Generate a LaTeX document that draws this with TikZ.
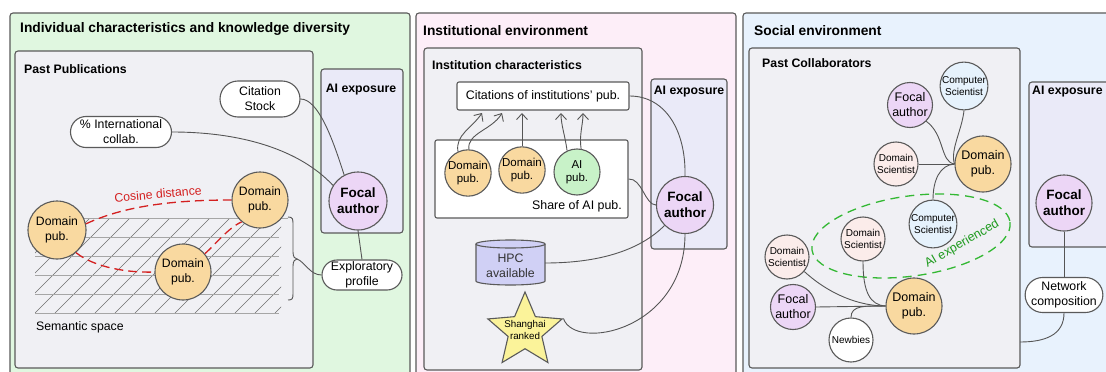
\documentclass[tikz,border=0pt]{standalone}
\usepackage{fontspec}
\setmainfont{Liberation Sans}
\usetikzlibrary{shapes.geometric,shapes.misc,arrows.meta,calc}
\definecolor{bordc}{HTML}{5A5A5A}
\definecolor{connc}{HTML}{555555}
\definecolor{pgreen}{HTML}{E0F7E0}
\definecolor{ppink}{HTML}{FDEEF8}
\definecolor{pblue}{HTML}{E8F2FD}
\definecolor{boxc}{HTML}{F0F0F4}
\definecolor{aiexc}{HTML}{EAEAF8}
\definecolor{focc}{HTML}{ECD6F6}
\definecolor{domc}{HTML}{F9D9A0}
\definecolor{aipc}{HTML}{C8F2C8}
\definecolor{compc}{HTML}{E6F2FC}
\definecolor{dsc}{HTML}{FBECEA}
\definecolor{hpcc}{HTML}{D0D0F5}
\definecolor{starc}{HTML}{FBF39A}
\definecolor{cosred}{HTML}{D42020}
\definecolor{aigreen}{HTML}{33B833}
\definecolor{aitext}{HTML}{1E9A1E}
\newcommand\myfs[2]{\fontsize{#1}{#2}\selectfont}
\tikzset{
  panel/.style={draw=bordc, line width=1.1pt, rounded corners=3pt},
  inbox/.style={draw=bordc, line width=1.1pt, rounded corners=3pt, fill=boxc},
  aibox/.style={draw=bordc, line width=1.1pt, rounded corners=3pt, fill=aiexc},
  circ/.style={circle, draw=bordc, line width=1.1pt, inner sep=0pt, align=center},
  pubc/.style={circ, fill=domc, minimum size=56pt, font=\myfs{12.2}{14.5}},
  focal/.style={circ, fill=focc, minimum size=58pt, font=\bfseries\myfs{13.5}{16}},
  stad/.style={rounded rectangle, draw=bordc, fill=white, line width=1.1pt, align=center, inner sep=0pt, font=\myfs{12.3}{15}},
  conn/.style={draw=connc, line width=0.9pt},
  arr/.style={conn, -{Straight Barb[length=6pt,width=11pt,line width=0.9pt]}},
  ttl/.style={anchor=west, inner sep=0pt, font=\bfseries\myfs{13.8}{16}},
  sttl/.style={anchor=west, inner sep=0pt, font=\bfseries\myfs{12.3}{15}},
  smallc/.style={circ, minimum size=44pt, font=\myfs{10}{12}},
  cosd/.style={draw=cosred, line width=1.3pt, dash pattern=on 9pt off 5pt},
}
\begin{document}
\begin{tikzpicture}[x=1pt,y=-1pt]
\useasboundingbox (0,0) rectangle (1106,372);
\fill[white] (0,0) rectangle (1106,372);

% ---------------- Panel 1 ----------------
\draw[panel, fill=pgreen] (10,13) rectangle (410,390);
\node[ttl] (t1) at (20,29) {Individual characteristics and knowledge diversity};
\draw[inbox] (15,51) rectangle (313,368);
\node[sttl] (t1a) at (24,69) {Past Publications};
\draw[aibox] (321,69) rectangle (403,233);
\node[sttl, anchor=center] (t1b) at (361,90) {AI exposure};

% semantic space grid
\begin{scope}
  \clip (35,218) rectangle (281,313);
  \foreach \i in {-5,...,13} \draw[connc!85, line width=0.5pt] (35+\i*20,313) -- ++(95,-95);
\end{scope}
\foreach \yy in {237,256,275,294,313} \draw[gray!70, line width=0.9pt] (35,\yy) -- (279,\yy);
\draw[gray!70, line width=0.9pt] (80,218) -- (288,218);
\node[anchor=west, inner sep=0pt, font=\myfs{12.3}{15}] (sem) at (36,327) {Semantic space};

% brace
\coordinate (brtip) at (297,259);
\draw[conn] (288,217) .. controls (293,217) and (293,219) .. (293,225) -- (293,252)
  .. controls (293,257) and (295,259) .. (brtip)
  .. controls (295,259) and (293,261) .. (293,266) -- (293,294)
  .. controls (293,299) and (292,300) .. (288,300);

\node[pubc, minimum size=58pt] (dA) at (57,230) {Domain\\pub.};
\node[pubc] (dB) at (260,200) {Domain\\pub.};
\node[pubc] (dC) at (183,272) {Domain\\pub.};

\draw[cosd] (dA.12) .. controls (120,208) and (165,200) .. (dB.west);
\draw[cosd] (dA.-50) .. controls (95,268) and (130,273) .. (dC.west);
\draw[cosd] (dC.40) .. controls (215,245) and (228,228) .. (dB.-130);
\node[rotate=5, text=cosred, inner sep=0pt, font=\myfs{12.3}{15}] (cosl) at (158,194) {Cosine distance};

\node[stad, minimum width=80pt, minimum height=36pt] (cit) at (260,99) {Citation\\Stock};
\node[stad, minimum width=101pt, minimum height=31pt] (intl) at (121,132) {\% International\\collab.};
\node[focal] (fa1) at (358,201) {Focal\\author};
\node[stad, minimum width=80pt, minimum height=30pt] (exp) at (362,275) {Exploratory\\profile};

\draw[conn] (cit.east) .. controls +(18,0) and (333,140) .. (fa1.118);
\draw[conn] (intl.east) .. controls +(70,0) and (300,150) .. (fa1.148);
\draw[conn] (fa1.south) -- (exp.north);
\draw[conn] (exp.west) .. controls (310,275) and (305,262) .. (brtip);

% ---------------- Panel 2 ----------------
\draw[panel, fill=ppink] (416,13) rectangle (736,390);
\node[ttl] (t2) at (423,31) {Institutional environment};
\draw[inbox] (424,48) rectangle (642,370);
\node[sttl] (t2a) at (432,65) {Institution characteristics};
\draw[aibox] (651,79) rectangle (727,249);
\node[sttl, anchor=center] (t2b) at (689,92) {AI exposure};

\node[draw=bordc, fill=white, line width=1.1pt, rounded corners=2pt, minimum width=172pt, minimum height=28pt, inner sep=0pt, font=\myfs{12.4}{15}] (cip) at (543,96) {Citations of institutions' pub.};
\node[draw=bordc, fill=white, line width=1.1pt, rounded corners=2pt, minimum width=193pt, minimum height=78pt, inner sep=0pt] (share) at (531.5,179) {};
\node[anchor=east, inner sep=0pt, font=\myfs{12.4}{15}] (sharel) at (622,206) {Share of AI pub.};

\node[pubc, minimum size=45pt, font=\myfs{11.5}{13.5}] (d1) at (468,173) {Domain\\pub.};
\node[pubc, minimum size=46pt, font=\myfs{11.5}{13.5}] (d2) at (522,170) {Domain\\pub.};
\node[circ, fill=aipc, minimum size=46pt, font=\myfs{11.5}{13.5}] (aip) at (577,172) {AI\\pub.};

\coordinate (a1) at (482,113);
\coordinate (a2) at (502,113);
\coordinate (a3) at (522,113);
\coordinate (a4) at (561,113);
\coordinate (a5) at (583,113);
\draw[arr] (d1.115) .. controls (455,135) and (472,128) .. (a1);
\draw[arr] (d1.88) .. controls (467,133) and (492,130) .. (a2);
\draw[arr] (d2.north) -- (a3);
\draw[arr] (aip.115) .. controls (565,135) and (561,125) .. (a4);
\draw[arr] (aip.80) .. controls (579,135) and (583,125) .. (a5);

\node[focal, minimum size=57pt] (fa2) at (685,205) {Focal\\author};

% HPC cylinder
\fill[hpcc] (476,244) -- (476,281) arc[start angle=180, end angle=0, x radius=34.5, y radius=4] -- (545,244) -- cycle;
\draw[bordc, line width=1.1pt] (476,244) -- (476,281) arc[start angle=180, end angle=0, x radius=34.5, y radius=4] -- (545,244);
\draw[bordc, line width=1.1pt, fill=hpcc] (510.5,244) ellipse (34.5 and 4);
\node[inner sep=0pt, align=center, font=\myfs{12.3}{15}, text=black!80] (hpc) at (510.5,266) {HPC\\available};
\coordinate (hpce) at (545,263);

% star
\node[star, star points=5, star point ratio=2.2, minimum size=78pt, inner sep=0pt, draw=bordc, line width=1.1pt, fill=starc] (star) at (525,331) {};
\node[inner sep=0pt, align=center, font=\myfs{9.8}{11.5}] (starl) at (525,330) {Shanghai\\ranked};

\draw[conn] (cip.east) .. controls (665,96) and (686,130) .. (fa2.north);
\draw[conn] (share.east) .. controls (642,178) and (645,205) .. (fa2.west);
\draw[conn] (hpce) .. controls (600,263) and (640,250) .. (fa2.225);
\draw[conn] (star.18) .. controls (575,352) and (685,330) .. (fa2.south);

% ---------------- Panel 3 ----------------
\draw[panel, fill=pblue] (743,13) rectangle (1120,390);
\node[ttl] (t3) at (754,31) {Social environment};
\draw[inbox] (749,48) rectangle (1020,368);
\node[sttl] (t3a) at (762,63) {Past Collaborators};
\draw[aibox] (1029,82) rectangle (1120,247);
\node[sttl] (t3b) at (1032,92) {AI exposure};

\node[focal, minimum size=56pt] (fa3) at (1064,203) {Focal\\author};
\node[stad, minimum width=74pt, minimum height=35pt] (net) at (1064,295) {Network\\composition};
\coordinate (pce) at (1020,342);
\draw[conn] (fa3.south) -- (net.north);
\draw[conn] (net.south) .. controls (1064,335) and (1045,342) .. (pce);

% AI experienced ellipse
\draw[aigreen, line width=1.3pt, dash pattern=on 9pt off 6pt, rotate around={8:(911,236)}] (911,236) ellipse (100 and 40);
\node[rotate=30, text=aitext, inner sep=0pt, font=\myfs{12.5}{15}] (ail) at (962,244) {AI experienced};

\node[circ, fill=focc, minimum size=45pt, font=\myfs{12.5}{15}] (cf1) at (910,105) {Focal\\author};
\node[smallc, fill=compc] (cs1) at (964,86) {Computer\\Scientist};
\node[smallc, fill=dsc] (ds1) at (896,164) {Domain\\Scientist};
\node[pubc, font=\myfs{12.5}{15}] (dp1) at (983,164) {Domain\\pub.};
\node[smallc, fill=compc] (cs2) at (933,224) {Computer\\Scientist};
\node[smallc, fill=dsc] (ds2) at (863,239) {Domain\\Scientist};
\node[smallc, fill=dsc] (ds3) at (787,257) {Domain\\Scientist};
\node[circ, fill=focc, minimum size=45pt, font=\myfs{12.5}{15}] (cf2) at (793,307) {Focal\\author};
\node[smallc, fill=white] (nb) at (851,340) {Newbies};
\node[pubc, font=\myfs{12.5}{15}] (dp2) at (914,306) {Domain\\pub.};

\draw[conn] (cf1.-45) .. controls (945,135) and (940,162) .. (dp1.west);
\draw[conn] (cs1.south) .. controls (962,130) and (950,150) .. (dp1.west);
\draw[conn] (ds1.east) -- (dp1.west);
\draw[conn] (cs2.north) .. controls (933,180) and (940,165) .. (dp1.west);

\draw[conn] (ds3.-40) .. controls (830,295) and (860,306) .. (dp2.west);
\draw[conn] (ds2.south) .. controls (863,292) and (870,305) .. (dp2.west);
\draw[conn] (cf2.east) -- (dp2.west);
\draw[conn] (nb.north) .. controls (851,305) and (865,306) .. (dp2.west);
\end{tikzpicture}
\end{document}
